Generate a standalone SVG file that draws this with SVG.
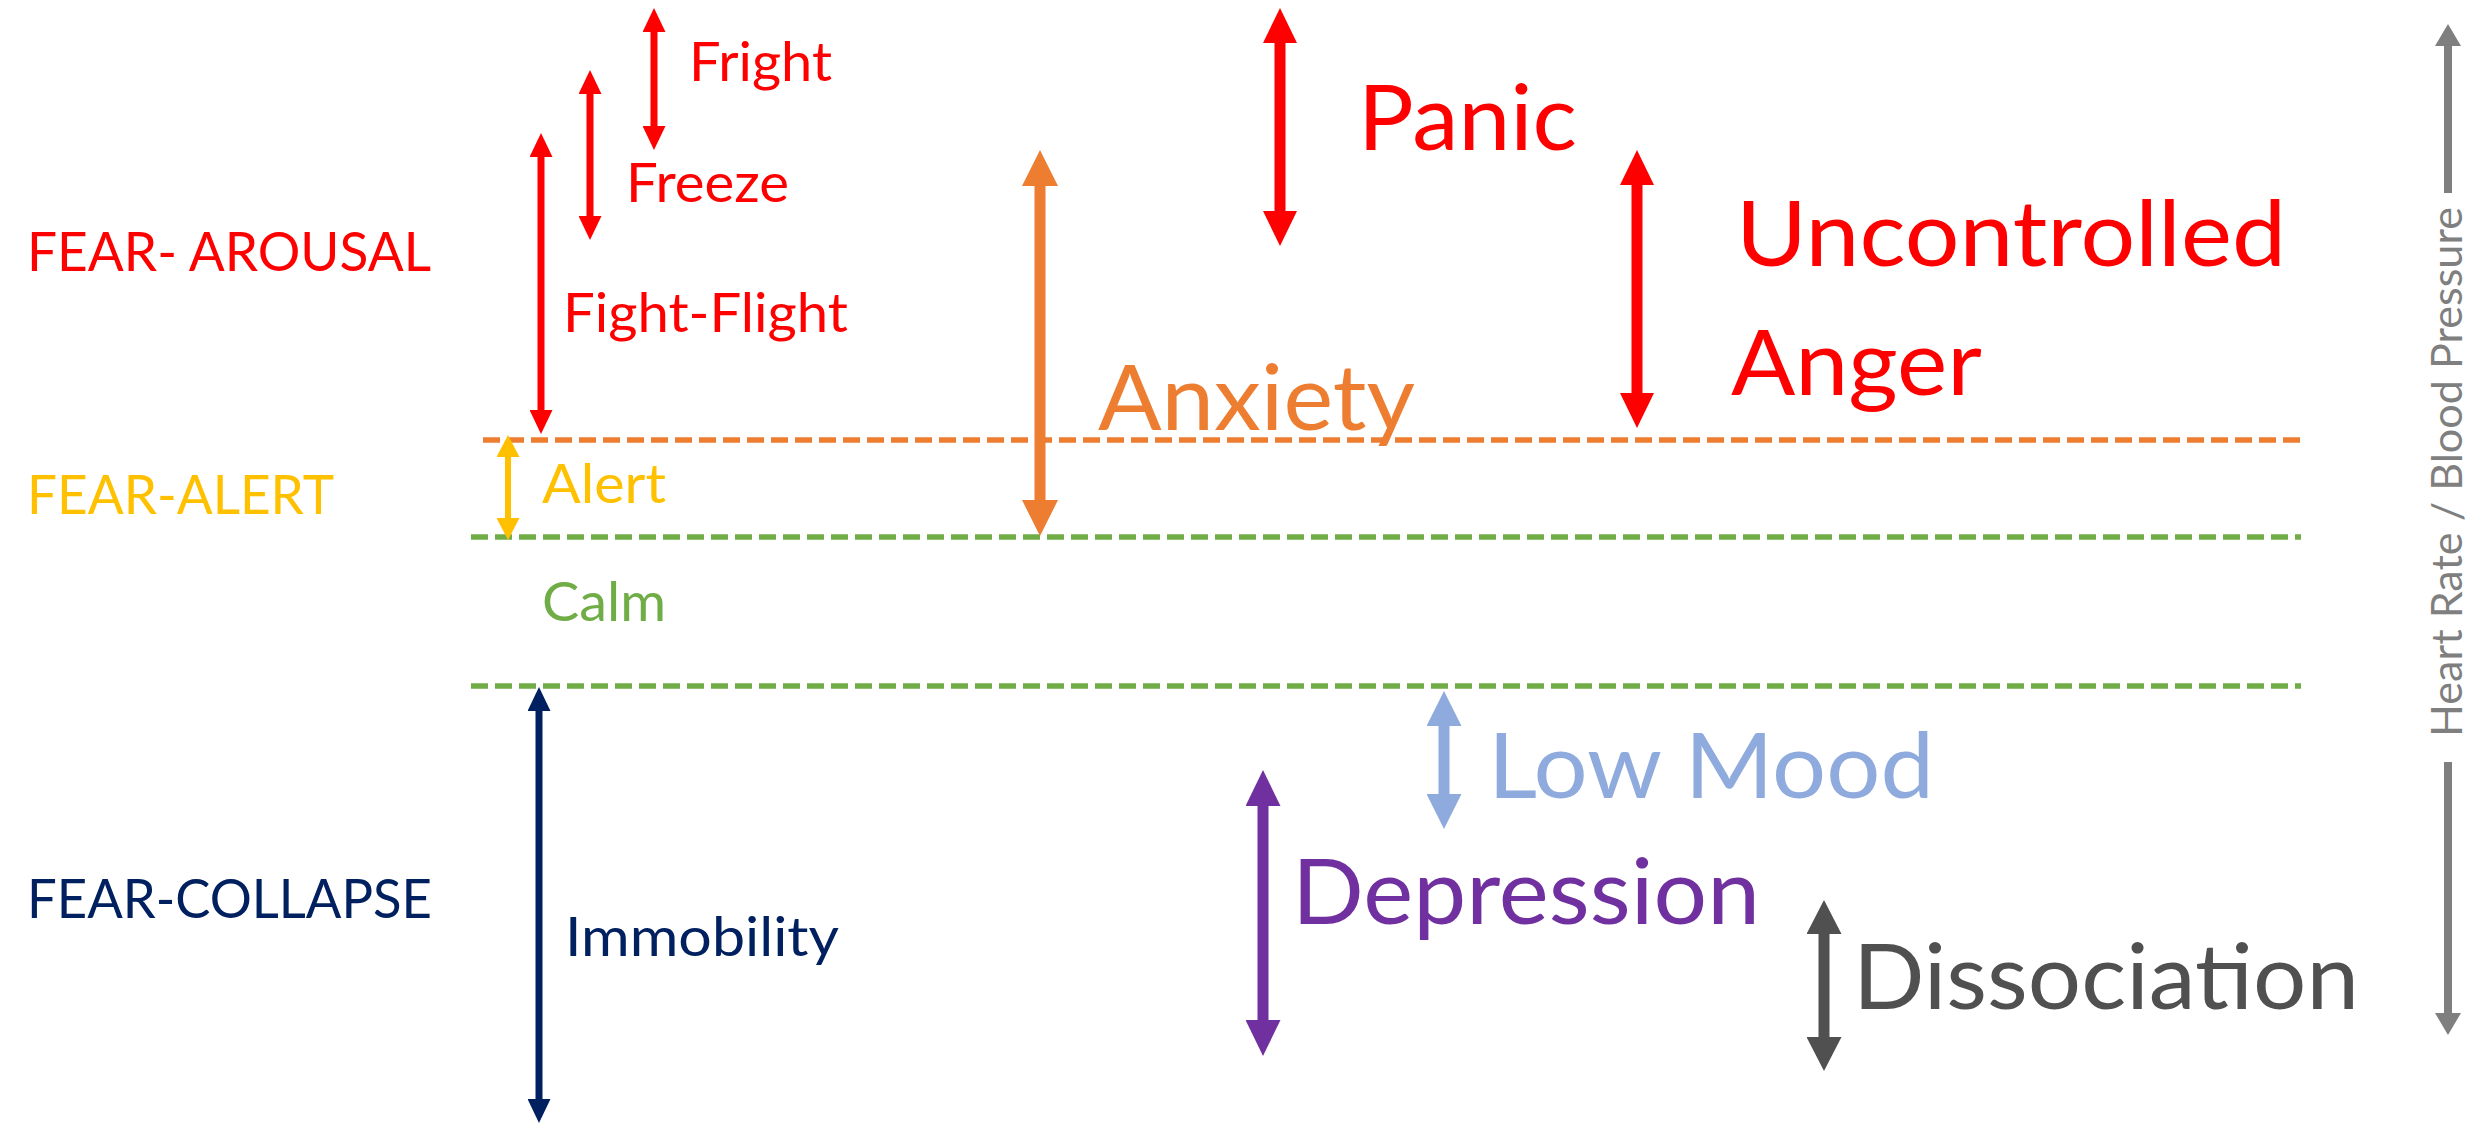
<svg xmlns="http://www.w3.org/2000/svg" width="2488" height="1124" viewBox="0 0 2488 1124">
<style>
text{font-family:Lato,"Open Sans","Liberation Sans",sans-serif;}
.s{font-size:55px;}
.l{font-size:92px;}
.hr{font-size:42px;fill:#7F7F7F;}
.red{fill:#FF0000;}
.org{fill:#ED7D31;}
.gold{fill:#FFC000;}
.grn{fill:#70AD47;}
.navy{fill:#002060;}
.blue{fill:#8FAADC;}
.pur{fill:#7030A0;}
.dg{fill:#505050;}
.lvl{fill:none;stroke-width:5.5;stroke-dasharray:17 7;}
.arr{fill:none;}
</style>
<defs>
<marker id="mRedS" markerUnits="userSpaceOnUse" viewBox="0 0 24 23" markerWidth="24" markerHeight="23" refX="2" refY="11.5" orient="auto-start-reverse"><path d="M0,0 L24,11.5 L0,23 z" fill="#FF0000"/></marker>
<marker id="mRedL" markerUnits="userSpaceOnUse" viewBox="0 0 35 34" markerWidth="35" markerHeight="34" refX="2" refY="17" orient="auto-start-reverse"><path d="M0,0 L35,17 L0,34 z" fill="#FF0000"/></marker>
<marker id="mOrg" markerUnits="userSpaceOnUse" viewBox="0 0 36 36" markerWidth="36" markerHeight="36" refX="2" refY="18" orient="auto-start-reverse"><path d="M0,0 L36,18 L0,36 z" fill="#ED7D31"/></marker>
<marker id="mGold" markerUnits="userSpaceOnUse" viewBox="0 0 22 23" markerWidth="22" markerHeight="23" refX="2" refY="11.5" orient="auto-start-reverse"><path d="M0,0 L22,11.5 L0,23 z" fill="#FFC000"/></marker>
<marker id="mNavy" markerUnits="userSpaceOnUse" viewBox="0 0 24 23" markerWidth="24" markerHeight="23" refX="2" refY="11.5" orient="auto-start-reverse"><path d="M0,0 L24,11.5 L0,23 z" fill="#002060"/></marker>
<marker id="mBlue" markerUnits="userSpaceOnUse" viewBox="0 0 35 35" markerWidth="35" markerHeight="35" refX="2" refY="17.5" orient="auto-start-reverse"><path d="M0,0 L35,17.5 L0,35 z" fill="#8FAADC"/></marker>
<marker id="mPur" markerUnits="userSpaceOnUse" viewBox="0 0 36 35" markerWidth="36" markerHeight="35" refX="2" refY="17.5" orient="auto-start-reverse"><path d="M0,0 L36,17.5 L0,35 z" fill="#7030A0"/></marker>
<marker id="mDg" markerUnits="userSpaceOnUse" viewBox="0 0 34 35" markerWidth="34" markerHeight="35" refX="2" refY="17.5" orient="auto-start-reverse"><path d="M0,0 L34,17.5 L0,35 z" fill="#505050"/></marker>
<marker id="mGray" markerUnits="userSpaceOnUse" viewBox="0 0 22 26" markerWidth="22" markerHeight="26" refX="2" refY="13" orient="auto-start-reverse"><path d="M0,0 L22,13 L0,26 z" fill="#7F7F7F"/></marker>
</defs>
<rect width="2488" height="1124" fill="#FFFFFF"/>
<g id="levels">
<line class="lvl" x1="483" y1="440" x2="2301" y2="440" stroke="#ED7D31"/>
<line class="lvl" x1="471" y1="537" x2="2301" y2="537" stroke="#70AD47"/>
<line class="lvl" x1="471" y1="686" x2="2301" y2="686" stroke="#70AD47"/>
</g>
<g id="connectors">
<line class="arr" x1="654" y1="30" x2="654" y2="128" stroke="#FF0000" stroke-width="7" marker-start="url(#mRedS)" marker-end="url(#mRedS)"/>
<line class="arr" x1="590" y1="92" x2="590" y2="218" stroke="#FF0000" stroke-width="7" marker-start="url(#mRedS)" marker-end="url(#mRedS)"/>
<line class="arr" x1="541" y1="155" x2="541" y2="412" stroke="#FF0000" stroke-width="7" marker-start="url(#mRedS)" marker-end="url(#mRedS)"/>
<line class="arr" x1="1280" y1="41" x2="1280" y2="213" stroke="#FF0000" stroke-width="11" marker-start="url(#mRedL)" marker-end="url(#mRedL)"/>
<line class="arr" x1="1637" y1="183" x2="1637" y2="395" stroke="#FF0000" stroke-width="11" marker-start="url(#mRedL)" marker-end="url(#mRedL)"/>
<line class="arr" x1="1040" y1="184" x2="1040" y2="502" stroke="#ED7D31" stroke-width="11" marker-start="url(#mOrg)" marker-end="url(#mOrg)"/>
<line class="arr" x1="508" y1="455" x2="508" y2="520" stroke="#FFC000" stroke-width="6" marker-start="url(#mGold)" marker-end="url(#mGold)"/>
<line class="arr" x1="539" y1="709" x2="539" y2="1101" stroke="#002060" stroke-width="7" marker-start="url(#mNavy)" marker-end="url(#mNavy)"/>
<line class="arr" x1="1444" y1="724" x2="1444" y2="796" stroke="#8FAADC" stroke-width="11" marker-start="url(#mBlue)" marker-end="url(#mBlue)"/>
<line class="arr" x1="1263" y1="804" x2="1263" y2="1022" stroke="#7030A0" stroke-width="11" marker-start="url(#mPur)" marker-end="url(#mPur)"/>
<line class="arr" x1="1824" y1="932" x2="1824" y2="1039" stroke="#505050" stroke-width="11" marker-start="url(#mDg)" marker-end="url(#mDg)"/>
<line class="arr" x1="2448" y1="193" x2="2448" y2="44" stroke="#7F7F7F" stroke-width="8" marker-end="url(#mGray)"/>
<line class="arr" x1="2448" y1="762" x2="2448" y2="1015" stroke="#7F7F7F" stroke-width="8" marker-end="url(#mGray)"/>
</g>
<g id="fear-arousal"><text class="s red" x="27" y="271" textLength="404" lengthAdjust="spacingAndGlyphs">FEAR- AROUSAL</text></g>
<g id="fear-alert"><text class="s gold" x="27" y="514" textLength="307" lengthAdjust="spacingAndGlyphs">FEAR-ALERT</text></g>
<g id="fear-collapse"><text class="s navy" x="27" y="918" textLength="405" lengthAdjust="spacingAndGlyphs">FEAR-COLLAPSE</text></g>
<g id="fright"><text class="s red" x="689" y="81" textLength="143" lengthAdjust="spacingAndGlyphs">Fright</text></g>
<g id="freeze"><text class="s red" x="626" y="202" textLength="163" lengthAdjust="spacingAndGlyphs">Freeze</text></g>
<g id="fight-flight"><text class="s red" x="563" y="332" textLength="285" lengthAdjust="spacingAndGlyphs">Fight-Flight</text></g>
<g id="alert"><text class="s gold" x="542" y="503" textLength="124" lengthAdjust="spacingAndGlyphs">Alert</text></g>
<g id="calm"><text class="s grn" x="542" y="621" textLength="124" lengthAdjust="spacingAndGlyphs">Calm</text></g>
<g id="immobility"><text class="s navy" x="565" y="956" textLength="274" lengthAdjust="spacingAndGlyphs">Immobility</text></g>
<g id="panic"><text class="l red" x="1358" y="150" textLength="219" lengthAdjust="spacingAndGlyphs">Panic</text></g>
<g id="anxiety"><text class="l org" x="1098" y="430" textLength="317" lengthAdjust="spacingAndGlyphs">Anxiety</text></g>
<g id="uncontrolled-anger">
<text class="l red" x="1736" y="266" textLength="550" lengthAdjust="spacingAndGlyphs">Uncontrolled</text>
<text class="l red" x="1731" y="395" textLength="251" lengthAdjust="spacingAndGlyphs">Anger</text>
</g>
<g id="low-mood"><text class="l blue" x="1488" y="798" textLength="446" lengthAdjust="spacingAndGlyphs">Low Mood</text></g>
<g id="depression"><text class="l pur" x="1292" y="924" textLength="468" lengthAdjust="spacingAndGlyphs">Depression</text></g>
<g id="dissociation"><text class="l dg" x="1853" y="1009" textLength="506" lengthAdjust="spacingAndGlyphs">Dissociation</text></g>
<g id="heart-rate"><text class="hr" transform="translate(2462,737) rotate(-90)" x="0" y="0" textLength="530" lengthAdjust="spacingAndGlyphs">Heart Rate / Blood Pressure</text></g>
</svg>
